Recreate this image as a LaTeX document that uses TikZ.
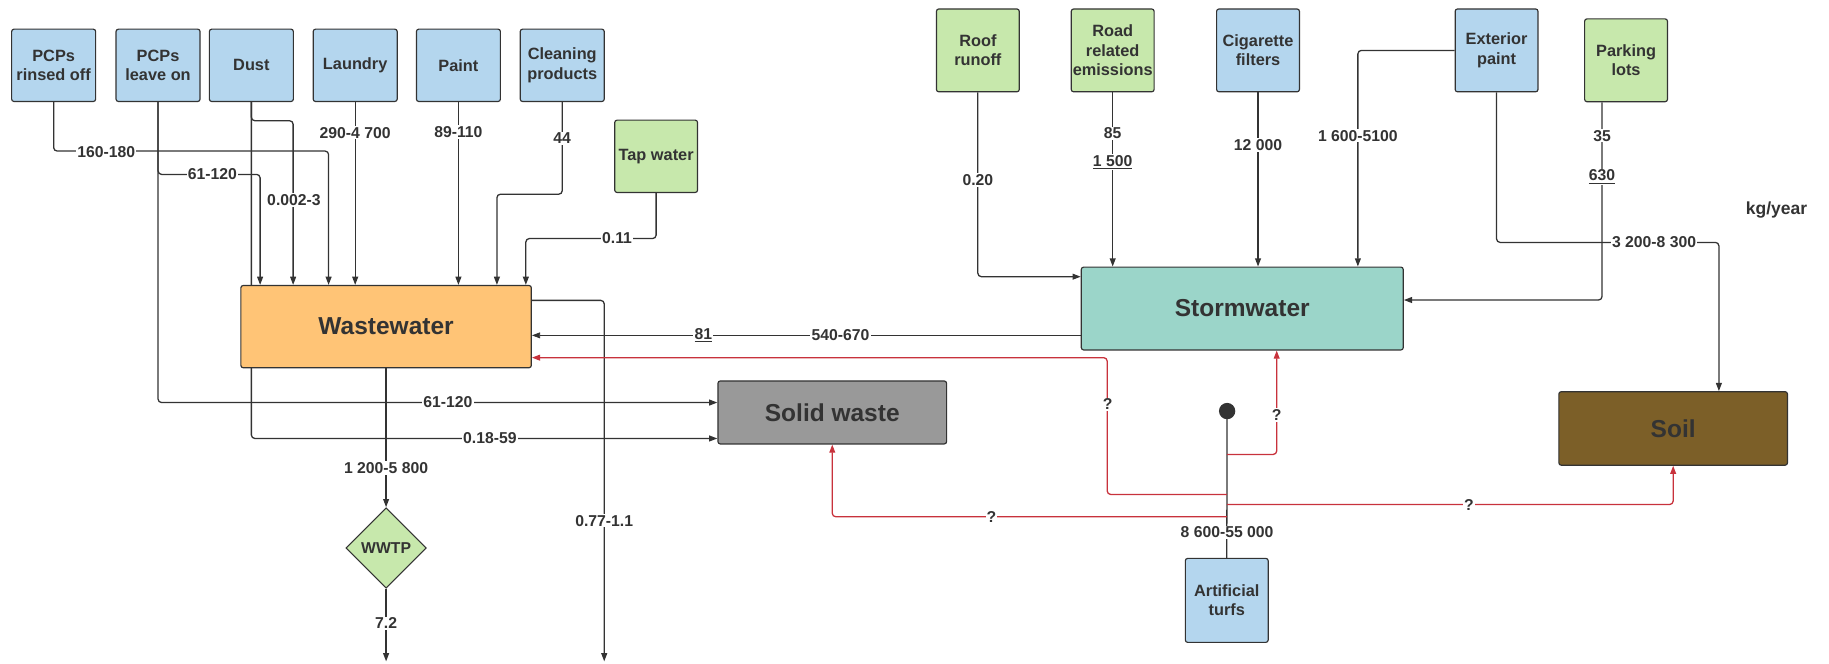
\documentclass[tikz,border=0pt]{standalone}
\usepackage{fontspec}
\setmainfont{Liberation Sans}
\usetikzlibrary{arrows.meta,shapes.geometric}
\pgfdeclarelayer{bg}
\pgfsetlayers{bg,main}
\definecolor{srcblue}{RGB}{180,214,238}
\definecolor{srcgreen}{RGB}{199,232,172}
\definecolor{wworange}{RGB}{255,196,118}
\definecolor{swteal}{RGB}{155,213,201}
\definecolor{wastegrey}{RGB}{153,153,153}
\definecolor{soilbrown}{RGB}{124,95,40}
\definecolor{flowred}{RGB}{200,50,60}
\definecolor{ink}{RGB}{51,51,51}
\tikzset{
  srcbox/.style={draw=ink, line width=1pt, rounded corners=2pt, align=center,
    text=ink, font=\fontsize{14}{16.5}\selectfont\bfseries,
    minimum width=71pt, minimum height=71pt, inner sep=1pt},
  sinkbox/.style={srcbox, font=\fontsize{21}{24}\selectfont\bfseries},
  lbl/.style={fill=white, inner sep=1pt, text=ink,
    font=\fontsize{13.5}{16}\selectfont\bfseries},
  flow/.style={draw=ink, line width=1.1pt, rounded corners=3pt,
    -{Triangle[length=7pt,width=5pt]}},
  thinflow/.style={flow, line width=0.7pt},
  redflow/.style={flow, draw=flowred},
  plain/.style={draw=ink, line width=1.1pt, rounded corners=3pt}
}
\begin{document}
\begin{tikzpicture}[x=1pt, y=-1pt]
    \useasboundingbox (0,0) rectangle (1568,568.4);
    % sources on the left
    \node[srcbox, fill=srcblue, minimum height=62pt, minimum width=72pt] (rinse) at (46,56) {PCPs\\rinsed off};
    \node[srcbox, fill=srcblue, minimum height=62pt, minimum width=72pt] (leave) at (135.5,56) {PCPs\\leave on};
    \node[srcbox, fill=srcblue, minimum height=62pt, minimum width=72pt] (dust) at (215.5,56) {Dust};
    \node[srcbox, fill=srcblue, minimum height=62pt, minimum width=72pt] (laundry) at (304.5,56) {Laundry};
    \node[srcbox, fill=srcblue, minimum height=62pt, minimum width=72pt] (paint) at (393,56) {Paint};
    \node[srcbox, fill=srcblue, minimum height=62pt, minimum width=72pt] (clean) at (482,56) {Cleaning\\products};
    \node[srcbox, fill=srcgreen, minimum height=62pt] (tap) at (562.5,134) {Tap water};
    % sources on the right
    \node[srcbox, fill=srcgreen] (roof) at (838.3,43.2) {Roof\\runoff};
    \node[srcbox, fill=srcgreen] (road) at (953.9,43.2) {Road\\related\\emissions};
    \node[srcbox, fill=srcblue] (cig) at (1078.5,43.2) {Cigarette\\filters};
    \node[srcbox, fill=srcblue] (ext) at (1283,43.2) {Exterior\\paint};
    \node[srcbox, fill=srcgreen] (park) at (1394,51.7) {Parking\\lots};
    \node[srcbox, fill=srcblue, minimum height=72pt] (turf) at (1051.7,514.7) {Artificial\\turfs};
    % sinks
    \node[sinkbox, fill=wworange, minimum width=249pt, minimum height=70.5pt] (ww) at (331,280) {Wastewater};
    \node[sinkbox, fill=swteal, minimum width=276pt, minimum height=71pt] (sw) at (1065,264.5) {Stormwater};
    \node[sinkbox, fill=wastegrey, minimum width=196pt, minimum height=54pt] (solid) at (713.5,353.6) {Solid waste};
    \node[sinkbox, fill=soilbrown, minimum width=196pt, minimum height=63pt] (soil) at (1434.4,367.3) {Soil};
    \node[diamond, aspect=1, draw=ink, line width=1pt, fill=srcgreen, text=ink, inner sep=0pt,
          minimum size=69pt, font=\fontsize{13.5}{16}\selectfont\bfseries] (wwtp) at (331,469.8) {WWTP};
    \node[circle, fill=ink, inner sep=0pt, minimum size=14pt] (turfdot) at (1052,352.4) {};
    \node[text=ink, font=\fontsize{15}{18}\selectfont\bfseries] (unit) at (1523,180) {kg/year};
    % free ends
    \coordinate (wwa1) at ([xshift=17pt]ww.north west);
    \coordinate (wwa2) at ([xshift=45.3pt]ww.north west);
    \coordinate (wwa3) at ([xshift=75.7pt]ww.north west);
    \coordinate (wwa6) at ([xshift=220pt]ww.north west);
    \coordinate (wwa7) at ([xshift=244.8pt]ww.north west);
    \coordinate (wwtpout) at (331,567);
    \coordinate (rightout) at (518,567);
    \begin{pgfonlayer}{bg}
        \draw[flow] (rinse.south) -- ++(0,42) -| (wwa3);
        \draw[flow] (leave.south) -- ++(0,62) -| (wwa1);
        \draw[flow] (leave.south) |- ([yshift=8.5pt]solid.west);
        \draw[flow] (dust.south) |- ([yshift=-22.3pt]solid.west);
        \draw[flow] (dust.south) -- ++(0,16) -| (wwa2);
        \draw[flow] (laundry.south) -- (laundry.south |- ww.north);
        \draw[flow] (paint.south) -- (paint.south |- ww.north);
        \draw[flow] (clean.south) -- ++(0,79) -| (wwa6);
        \draw[flow] (tap.south) -- ++(0,39) -| (wwa7);
        \draw[flow] (ww.south) -- (wwtp.north);
        \draw[flow] (wwtp.south) -- (wwtpout);
        \draw[flow] ([yshift=22.5pt]ww.east) -| (rightout);
        \draw[thinflow] ([yshift=-23pt]sw.west) -- ([yshift=-23pt]sw.west -| ww.east);
        \draw[flow] (roof.south) |- ([yshift=27.3pt]sw.west);
        \draw[flow] (road.south) -- (road.south |- sw.north);
        \draw[flow] (cig.south) -- (cig.south |- sw.north);
        \draw[flow] (ext.west) -| ([xshift=99.1pt]sw.north);
        \draw[flow] (ext.south) -- ++(0,128.6) -| ([xshift=39.2pt]soil.north);
        \draw[flow] ([xshift=-20.6pt]park.south) |- ([yshift=7.3pt]sw.east);
        \draw[plain] (turf.north) -- (turfdot.center);
        \draw[redflow] ([yshift=54.3pt]turf.north) -- ++(-102.5,0) |- ([yshift=-26.6pt]ww.east);
        \draw[redflow] ([yshift=88.6pt]turf.north) -| ([xshift=29.5pt]sw.south);
        \draw[redflow] ([yshift=45.7pt]turf.north) -| (soil.south);
        \draw[redflow] ([yshift=35.2pt]turf.north) -| (solid.south);
    \end{pgfonlayer}
    % amounts
    \node[lbl] (lrinse) at (91,130) {160-180};
    \node[lbl] (lleave) at (182,149) {61-120};
    \node[lbl] (ldust) at (252,171.5) {0.002-3};
    \node[lbl] (llaundry) at (304.5,113.7) {290-4 700};
    \node[lbl] (lpaint) at (393,113) {89-110};
    \node[lbl] (lclean) at (482,118.6) {44};
    \node[lbl] (ltap) at (529,204.3) {0.11};
    \node[lbl] (lleavesolid) at (384,345) {61-120};
    \node[lbl] (ldustsolid) at (420,375.8) {0.18-59};
    \node[lbl] (lwwtpin) at (331,401) {1 200-5 800};
    \node[lbl] (lwwtpout) at (331,534.4) {7.2};
    \node[lbl] (lrightout) at (518,446.3) {0.77-1.1};
    \node[lbl] (lswlow) at (603,287.5) {\underline{81}};
    \node[lbl] (lswww) at (720.5,287.5) {540-670};
    \node[lbl] (lroof) at (838.3,154.3) {0.20};
    \node[lbl] (lroad) at (953.9,114.3) {85};
    \node[lbl] (lroadhigh) at (953.9,139.2) {\underline{1 500}};
    \node[lbl] (lcig) at (1078.5,124.3) {12 000};
    \node[lbl] (lext) at (1164.1,116.3) {1 600-5100};
    \node[lbl] (lextsoil) at (1418,207.2) {3 200-8 300};
    \node[lbl] (lpark) at (1373.4,116.3) {35};
    \node[lbl] (lparkhigh) at (1373.4,151.5) {\underline{630}};
    \node[lbl] (lturf) at (1052,456.4) {8 600-55 000};
    \node[lbl] (qww) at (949.5,346.7) {?};
    \node[lbl] (qsw) at (1094.5,355.8) {?};
    \node[lbl] (qsoil) at (1259.4,433) {?};
    \node[lbl] (qsolid) at (850,443.5) {?};
\end{tikzpicture}
\end{document}
